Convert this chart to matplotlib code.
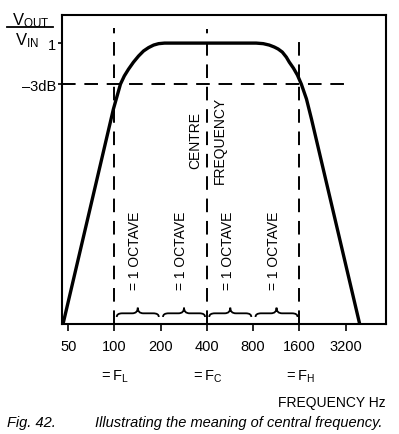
import matplotlib
matplotlib.use("Agg")
import matplotlib.pyplot as plt
from matplotlib.path import Path
from matplotlib.patches import PathPatch
import numpy as np

plt.rcParams['font.family'] = ['Liberation Sans', 'DejaVu Sans']
plt.rcParams['mathtext.fontset'] = 'custom'
plt.rcParams['mathtext.rm'] = 'Liberation Sans'
plt.rcParams['mathtext.it'] = 'Liberation Sans'

# response curve (frequency in Hz, relative output)
freq = [46.3, 98.5, 109.5, 116, 123.5, 133, 143.6, 154.8, 166.9, 180, 194, 212,
        837, 930, 1018, 1098, 1163, 1238, 1315, 1375, 1462, 1553, 1646, 1778, 1916, 3946]
gain = [0.0, 0.765, 0.854, 0.883, 0.907, 0.932, 0.954, 0.972, 0.984, 0.993, 0.998, 1.0,
        1.0, 0.998, 0.993, 0.986, 0.979, 0.968, 0.950, 0.932, 0.911, 0.886, 0.854, 0.801, 0.730, 0.0]

ticks = [50, 100, 200, 400, 800, 1600, 3200]
tick_labels = ['50', '100', '200', '400', '800', '1600', '3200']
level_3db = 0.854
f_low, f_centre, f_high = 100, 400, 1600
octaves = [(100, 200), (200, 400), (400, 800), (800, 1600)]
markers = [(100, r'$=\mathrm{F}_\mathrm{L}$'), (400, r'$=\mathrm{F}_\mathrm{C}$'), (1600, r'$=\mathrm{F}_\mathrm{H}$')]

fig = plt.figure(figsize=(3.99, 4.35), dpi=100)
ax = fig.add_axes([0.1554, 0.2529, 0.8116, 0.7103])
ax.set_xscale('log', base=2)
ax.set_xlim(45.6, 5840)
ax.set_ylim(0, 1.1)

ax.plot(freq, gain, color='black', lw=2.4, solid_capstyle='round', solid_joinstyle='round')

dash = (0, (7, 4.5))
ax.plot([45.6, 3150], [level_3db, level_3db], color='black', lw=1.4, linestyle=dash)
ax.plot([f_low, f_low], [0, 1.053], color='black', lw=1.4, linestyle=dash)
ax.plot([f_centre, f_centre], [0, 1.05], color='black', lw=1.4, linestyle=dash)
ax.plot([f_high, f_high], [0, 1.005], color='black', lw=1.4, linestyle=dash)

# curly braces over each octave
for a, b in octaves:
    la, lb = np.log2(a) + 0.05, np.log2(b) - 0.04
    lm = (la + lb) / 2
    y0, y1, y2 = 0.025, 0.038, 0.058
    pts = [(la, y0), (la, y1), (la + 0.12, y1), (lm - 0.12, y1), (lm, y1), (lm, y2),
           (lm, y1), (lm + 0.12, y1), (lb - 0.12, y1), (lb, y1), (lb, y0)]
    pts = [(2 ** x, y) for x, y in pts]
    codes = [Path.MOVETO, Path.CURVE3, Path.CURVE3, Path.LINETO, Path.CURVE3, Path.CURVE3,
             Path.CURVE3, Path.CURVE3, Path.LINETO, Path.CURVE3, Path.CURVE3]
    ax.add_patch(PathPatch(Path(pts, codes), fill=False, lw=1.3, color='black'))
    ax.text(2 ** (lm - 0.06), 0.265, '= 1 OCTAVE', rotation=90, ha='center', va='center', fontsize=10)

ax.text(2 ** (np.log2(f_centre) - 0.26), 0.658, 'CENTRE', rotation=90, ha='center', va='center', fontsize=10)
ax.text(2 ** (np.log2(f_centre) + 0.28), 0.658, 'FREQUENCY', rotation=90, ha='center', va='center', fontsize=10)

ax.set_xticks(ticks)
ax.set_xticklabels(tick_labels, fontsize=10.5)
ax.minorticks_off()
ax.tick_params(axis='x', direction='out', length=5, width=1.2, pad=6)
ax.set_yticks([level_3db, 1.0])
ax.set_yticklabels(['\u20133dB', '1'], fontsize=10.5)
ax.tick_params(axis='y', direction='out', length=3, width=1.2, pad=1)
for s in ax.spines.values():
    s.set_linewidth(1.5)

for f, lab in markers:
    ax.annotate(lab, xy=(f, 0), xycoords=('data', 'axes fraction'), xytext=(0, -37),
                textcoords='offset points', ha='center', va='center', fontsize=10.5)

fig.text(0.03, 0.953, r'$\mathrm{V}_\mathrm{OUT}$', ha='left', va='center', fontsize=12)
fig.add_artist(plt.Line2D([0.018, 0.133], [0.935, 0.935], color='black', lw=1.3))
fig.text(0.038, 0.907, r'$\mathrm{V}_\mathrm{IN}$', ha='left', va='center', fontsize=12)

fig.text(0.967, 0.074, 'FREQUENCY Hz', ha='right', va='center', fontsize=10)
fig.text(0.018, 0.027, 'Fig. 42.', ha='left', va='center', fontsize=10.5, style='italic')
fig.text(0.238, 0.027, 'Illustrating the meaning of central frequency.', ha='left', va='center',
         fontsize=10.5, style='italic')

fig.savefig('out.png', dpi=100)
